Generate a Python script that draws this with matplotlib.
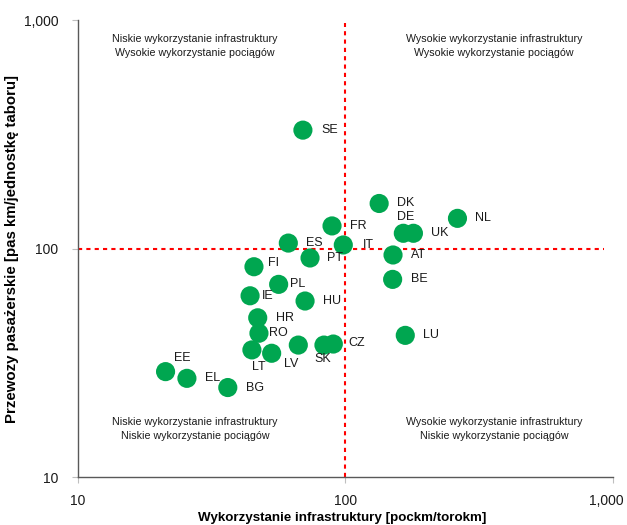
import matplotlib
matplotlib.use('Agg')
import matplotlib.pyplot as plt
import matplotlib.transforms as mtransforms
from matplotlib.ticker import FixedLocator, NullLocator, FuncFormatter

plt.rcParams['font.family'] = ['Liberation Sans', 'DejaVu Sans']

# ── Data ────────────────────────────────────────────────────
countries = ['SE', 'DK', 'FR', 'DE', 'UK', 'NL', 'IT', 'ES', 'AT', 'PT',
             'FI', 'PL', 'IE', 'HU', 'BE', 'HR', 'RO', 'LU', 'LT', 'LV',
             '', 'SK', 'CZ', 'EE', 'EL', 'BG']
infra_use = [69.5, 134, 89.3, 165, 180, 263, 98.4, 61.3, 151, 73.9,
             45.6, 56.4, 44.1, 70.8, 150.5, 47.1, 47.6, 167.8, 44.8, 53.1,
             66.8, 83.3, 90.3, 21.3, 25.6, 36.4]
train_use = [331, 158, 126, 117, 117, 136, 104, 106, 94, 91.2,
             83.5, 69.9, 62.3, 59.1, 73.5, 49.9, 42.7, 41.8, 36.1, 34.9,
             37.9, 37.9, 38.3, 29.0, 27.1, 24.7]
threshold_x = 100
threshold_y = 100

# label offsets (pixels) from marker centre to label's left edge
offsets = {'DE': (-6, 16), 'FI': (14, 4), 'PL': (11, 0), 'IE': (12, 0),
           'RO': (10, 0), 'LT': (0, -17), 'LV': (12, -11), 'SK': (-10, -14),
           'CZ': (15, 1), 'EE': (8, 14), 'IT': (20, 0), 'PT': (17, 0)}

GREEN = '#00A650'
GREY = '#595959'

fig = plt.figure(figsize=(6.27, 5.25), dpi=100)
ax = fig.add_axes([0.124, 0.091, 0.853, 0.870])
ax.set_xscale('log')
ax.set_yscale('log')
ax.set_xlim(10, 1000)
ax.set_ylim(10, 1000)

# quadrant dividers
ax.plot([threshold_x, threshold_x], [10, 970], color='#FF0000', lw=1.5,
        ls=(0, (2, 2)), zorder=1)
ax.plot([10, 930], [threshold_y, threshold_y], color='#FF0000', lw=1.5,
        ls=(0, (2, 2)), zorder=1)

ax.scatter(infra_use, train_use, s=190, color=GREEN, edgecolor='none', zorder=3)
for c, xv, yv in zip(countries, infra_use, train_use):
    if not c:
        continue
    dx, dy = offsets.get(c, (18, 0))
    ax.annotate(c, (xv, yv), xytext=(dx, dy), textcoords='offset pixels',
                ha='left', va='center', fontsize=9, color='#1a1a1a', zorder=4)

quad_kw = dict(ha='center', va='center', fontsize=7.7, color='#1a1a1a',
               linespacing=1.5)
ax.text(27.4, 772, 'Niskie wykorzystanie infrastruktury\nWysokie wykorzystanie pociągów', **quad_kw)
ax.text(360, 772, 'Wysokie wykorzystanie infrastruktury\nWysokie wykorzystanie pociągów', **quad_kw)
ax.text(27.4, 16.3, 'Niskie wykorzystanie infrastruktury\nNiskie wykorzystanie pociągów', **quad_kw)
ax.text(360, 16.3, 'Wysokie wykorzystanie infrastruktury\nNiskie wykorzystanie pociągów', **quad_kw)

for side in ['top', 'right']:
    ax.spines[side].set_visible(False)
for side in ['left', 'bottom']:
    ax.spines[side].set_color(GREY)
    ax.spines[side].set_linewidth(1.0)

fmt = FuncFormatter(lambda v, p: f'{v:,.0f}')
for axis in [ax.xaxis, ax.yaxis]:
    axis.set_major_locator(FixedLocator([10, 100, 1000]))
    axis.set_minor_locator(NullLocator())
    axis.set_major_formatter(fmt)
ax.tick_params(axis='both', which='major', direction='out', length=4,
               color='#BFBFBF', labelsize=10, labelcolor='#1a1a1a')
ax.tick_params(axis='y', pad=10)
ax.tick_params(axis='x', pad=8)

# nudge the last x tick label so it stays inside the figure
shift = mtransforms.ScaledTranslation(-6 / 100, 0, fig.dpi_scale_trans)
last = ax.xaxis.get_major_ticks()[-1].label1
last.set_transform(last.get_transform() + shift)

ax.set_xlabel('Wykorzystanie infrastruktury [pockm/torokm]', fontsize=9.6,
              fontweight='bold')
ax.set_ylabel('Przewozy pasażerskie [pas km/jednostkę taboru]', fontsize=10.8,
              fontweight='bold')
ax.xaxis.set_label_coords(0.495, -0.076)
ax.yaxis.set_label_coords(-0.11, 0.5)

fig.savefig('out.png', dpi=100)
plt.close()
